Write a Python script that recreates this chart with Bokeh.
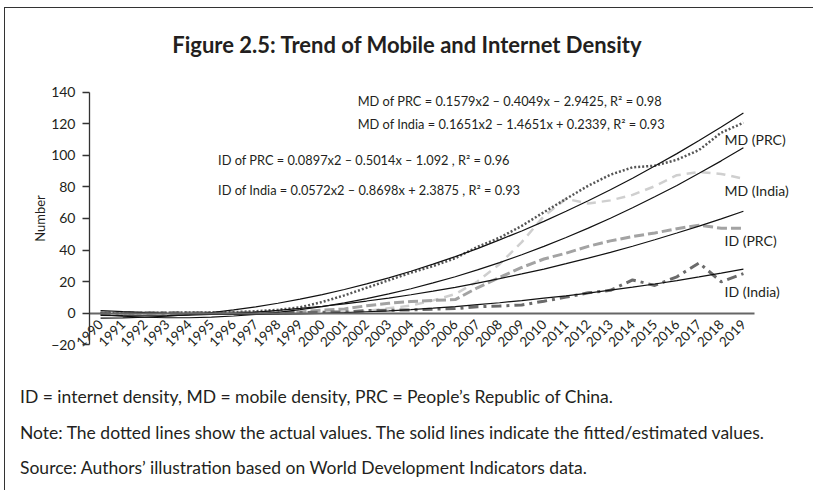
from math import pi
from bokeh.plotting import figure
from bokeh.models import Range1d, FixedTicker, Label
from bokeh.embed import file_html
from bokeh.resources import INLINE

years = list(range(1990, 2020))

# Actual values
md_prc_actual = [0.0, 0.0, 0.1, 0.2, 0.3, 0.3, 0.6, 1.1, 2.0, 3.6, 7.0, 11.2, 16.0, 20.8, 25.6,
                 29.8, 34.8, 42.0, 47.8, 55.3, 64.0, 72.5, 80.8, 87.8, 92.5, 93.5, 97.3, 103.5, 114.5, 120.8]
md_india_actual = [0.0, 0.0, 0.0, 0.0, 0.0, 0.0, 0.0, 0.1, 0.1, 0.2, 0.3, 0.6, 1.2, 3.0, 4.7,
                   8.0, 12.0, 20.0, 31.0, 45.0, 61.5, 72.5, 69.5, 71.5, 75.0, 80.5, 87.5, 89.5, 88.3, 85.3]
id_prc_actual = [0.0, 0.0, 0.0, 0.0, 0.0, 0.0, 0.0, 0.0, 0.2, 0.7, 1.8, 2.6, 4.6, 6.2, 7.3,
                 8.0, 8.5, 16.0, 22.6, 28.9, 34.3, 38.0, 42.3, 45.8, 48.5, 50.8, 53.5, 55.8, 53.8, 53.8]
id_india_actual = [0.0, 0.0, 0.0, 0.0, 0.0, 0.0, 0.0, 0.1, 0.1, 0.3, 0.5, 0.7, 1.5, 1.7, 2.0,
                   2.4, 2.8, 4.0, 4.4, 5.1, 7.5, 10.1, 12.8, 14.4, 21.0, 17.5, 23.0, 31.8, 19.8, 25.0]

# Fitted values
md_prc_fit = [-3.2, -3.1, -2.7, -2.0, -1.0, 0.3, 2.0, 3.9, 6.2, 8.8, 11.7, 14.9, 18.5, 22.3, 26.5,
              31.0, 35.8, 40.9, 46.4, 52.1, 58.2, 64.6, 71.3, 78.3, 85.6, 93.3, 101.2, 109.5, 118.1, 127.0]
md_india_fit = [-1.1, -2.0, -2.7, -3.0, -3.0, -2.6, -1.9, -0.9, 0.4, 2.1, 4.1, 6.4, 9.1, 12.1, 15.4,
                19.1, 23.0, 27.4, 32.0, 37.0, 42.3, 47.9, 53.9, 60.2, 66.8, 73.8, 81.0, 88.7, 96.6, 104.9]
id_prc_fit = [-1.5, -1.7, -1.8, -1.7, -1.4, -0.9, -0.2, 0.6, 1.7, 2.9, 4.3, 5.8, 7.6, 9.5, 11.6,
              13.9, 16.3, 19.0, 21.8, 24.8, 27.9, 31.3, 34.8, 38.5, 42.4, 46.5, 50.8, 55.2, 59.8, 64.6]
id_india_fit = [1.6, 0.9, 0.3, -0.2, -0.5, -0.8, -0.9, -0.9, -0.8, -0.6, -0.3, 0.2, 0.8, 1.4, 2.2,
                3.1, 4.1, 5.3, 6.5, 7.9, 9.4, 10.9, 12.6, 14.5, 16.4, 18.4, 20.6, 22.9, 25.3, 27.8]

y_ticks = [-20, 0, 20, 40, 60, 80, 100, 120, 140]

series_labels = ["MD (PRC)", "MD (India)", "ID (PRC)", "ID (India)"]
equations = [
    "MD of PRC = 0.1579x2 \u2013 0.4049x \u2013 2.9425, R\u00b2 = 0.98",
    "MD of India = 0.1651x2 \u2013 1.4651x + 0.2339, R\u00b2 = 0.93",
    "ID of PRC = 0.0897x2 \u2013 0.5014x \u2013 1.092 , R\u00b2 = 0.96",
    "ID of India = 0.0572x2 \u2013 0.8698x + 2.3875 , R\u00b2 = 0.93",
]
title_text = "Figure 2.5: Trend of Mobile and Internet Density"
notes = [
    "ID = internet density, MD = mobile density, PRC = People\u2019s Republic of China.",
    "Note: The dotted lines show the actual values. The solid lines indicate the fitted/estimated values.",
    "Source: Authors\u2019 illustration based on World Development Indicators data.",
]

FONT = "Lato"
TXT = "#231f20"

p = figure(width=809, height=483, output_backend="svg", toolbar_location=None,
           x_range=Range1d(1985.7105, 2022.207), y_range=Range1d(-113.333, 193.333),
           min_border_left=0, min_border_right=0, min_border_top=0, min_border_bottom=0)
p.styles = {"margin-left": "4px", "margin-top": "7px",
            "border-left": "1.5px solid #333", "border-top": "1.5px solid #333"}
p.outline_line_color = None
p.grid.visible = False
p.background_fill_color = "white"
p.border_fill_color = "white"

# x axis at y = 0
xa = p.xaxis[0]
xa.fixed_location = 0
xa.bounds = (1989.5, 2019.5)
xa.ticker = FixedTicker(ticks=years)
xa.major_label_orientation = pi / 4
xa.major_tick_line_color = None
xa.minor_tick_line_color = None
xa.axis_line_color = "#666666"
xa.axis_line_width = 2
xa.major_label_text_font = FONT
xa.major_label_text_font_size = "13.5px"
xa.major_label_text_color = TXT
xa.major_label_standoff = 3

# y axis at x = 1989.5
ya = p.yaxis[0]
ya.fixed_location = 1989.5
ya.bounds = (-20, 140)
ya.ticker = FixedTicker(ticks=y_ticks)
ya.minor_tick_line_color = None
ya.major_tick_out = 7
ya.major_tick_in = 0
ya.major_tick_line_color = "#333333"
ya.major_tick_line_width = 1.3
ya.axis_line_color = "#333333"
ya.axis_line_width = 1.3
ya.major_label_text_font = FONT
ya.major_label_text_font_size = "14px"
ya.major_label_text_color = TXT
ya.major_label_standoff = 7
ya.axis_label = "Number"
ya.axis_label_text_font = FONT
ya.axis_label_text_font_style = "normal"
ya.axis_label_text_font_size = "13px"
ya.axis_label_text_color = TXT
ya.axis_label_standoff = 0

# actual series
p.line(years, md_india_actual, line_color="#cfcfcf", line_width=2.5, line_dash="9 6")
p.line(years, id_prc_actual, line_color="#a3a3a3", line_width=3, line_dash="10 4")
p.line(years, id_india_actual, line_color="#6b6b6b", line_width=3, line_dash="10 5 3 5")
p.line(years, md_prc_actual, line_color="#555555", line_width=2.5, line_dash="2 2")

# fitted series
for f in (md_prc_fit, md_india_fit, id_prc_fit, id_india_fit):
    p.line(years, f, line_color="#111111", line_width=1.2)

# title
p.add_layout(Label(x=2003.846, y=170.2, text=title_text, text_font=FONT, text_font_size="22px",
                   text_font_style="bold", text_color=TXT, text_baseline="middle", text_align="center"))

# equation texts
eq_pos = [(2001.6, 134.7), (2001.6, 120.1), (1995.3, 97.2), (1995.3, 78.1)]
for t, (x, y) in zip(equations, eq_pos):
    p.add_layout(Label(x=x, y=y, text=t, text_font=FONT, text_font_size="12.8px",
                       text_color=TXT, text_baseline="middle", text_align="left"))

# series labels
lab_pos = [109.9, 77.5, 46.3, 13.8]
for t, y in zip(series_labels, lab_pos):
    p.add_layout(Label(x=2018.15, y=y, text=t, text_font=FONT, text_font_size="14px",
                       text_color=TXT, text_baseline="middle", text_align="left"))

# notes below the chart
for t, y in zip(notes, [-53.3, -75.6, -97.8]):
    p.add_layout(Label(x=1986.365, y=y, text=t, text_font=FONT, text_font_size="17.5px",
                       text_color=TXT, text_baseline="middle", text_align="left"))

open("out.html", "w").write(file_html(p, INLINE))
